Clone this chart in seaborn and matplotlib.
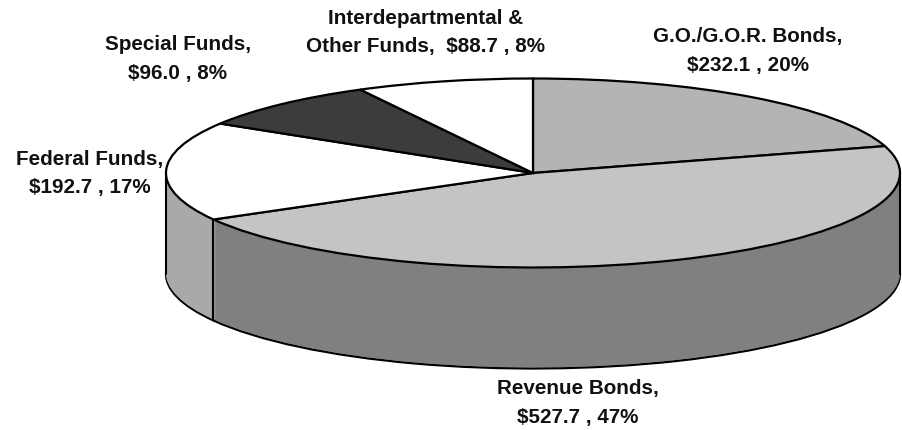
import numpy as np
import seaborn as sns
import matplotlib
matplotlib.use("Agg")
import matplotlib.pyplot as plt

funds = ["G.O./G.O.R. Bonds", "Revenue Bonds", "Federal Funds", "Special Funds", "Interdepartmental & Other Funds"]
amounts = [232.1, 527.7, 192.7, 96.0, 88.7]
percents = [20, 47, 17, 8, 8]
label_lines = [
    ["G.O./G.O.R. Bonds,", "$232.1 , 20%"],
    ["Revenue Bonds,", "$527.7 , 47%"],
    ["Federal Funds,", "$192.7 , 17%"],
    ["Special Funds,", "$96.0 , 8%"],
    ["Interdepartmental &", "Other Funds,  $88.7 , 8%"],
]

top_colors = ["#b4b4b4", "#c4c4c4", "#ffffff", "#3c3c3c", "#ffffff"]
side_colors = ["#808080", "#808080", "#a9a9a9", "#3c3c3c", "#ffffff"]
label_xy = [(748, 51), (578, 403), (90, 173.5), (178, 59), (426, 32.5)]

W, H = 902, 430
CX, CY, RX, RY = 533, 173, 367, 94.5
DEPTH_PX = 101

sns.set_theme(style="white")
plt.rcParams["font.family"] = ["Liberation Sans", "DejaVu Sans"]

fig = plt.figure(figsize=(W / 100, H / 100), dpi=100)
ax = fig.add_axes([0, 0, 1, 1])

edge = {"edgecolor": "black", "linewidth": 1.6}

# side wall: stack of pies going down, bottom one carries the outline
ax.pie(amounts, colors=side_colors, startangle=90, counterclock=False, radius=1,
       center=(0, -DEPTH_PX / RY), wedgeprops=edge, frame=True)
for d in range(DEPTH_PX - 1, 0, -1):
    ax.pie(amounts, colors=side_colors, startangle=90, counterclock=False, radius=1,
           center=(0, -d / RY), wedgeprops={"linewidth": 0}, frame=True)

# vertical edges of the wall and seam between federal and revenue
share = np.cumsum(amounts) / np.sum(amounts)
seam = np.deg2rad(90 - 360 * share[1])
for x in [-1, 1, np.cos(seam)]:
    y0 = np.sin(seam) if x == np.cos(seam) else 0
    ax.plot([x, x], [y0, y0 - DEPTH_PX / RY], color="black", lw=1.5, zorder=2)

# top face
ax.pie(amounts, colors=top_colors, startangle=90, counterclock=False, radius=1,
       center=(0, 0), wedgeprops={**edge, "zorder": 3}, frame=True)

ax.set_aspect("auto")
ax.set_xlim(-CX / RX, (W - CX) / RX)
ax.set_ylim(-(H - CY) / RY, CY / RY)
ax.axis("off")

for lines, (px, py) in zip(label_lines, label_xy):
    fig.text(px / W, 1 - py / H, "\n".join(lines), ha="center", va="center",
             fontsize=14.9, fontweight="bold", color="#111111", linespacing=1.66)

fig.savefig("out.png", dpi=100)
